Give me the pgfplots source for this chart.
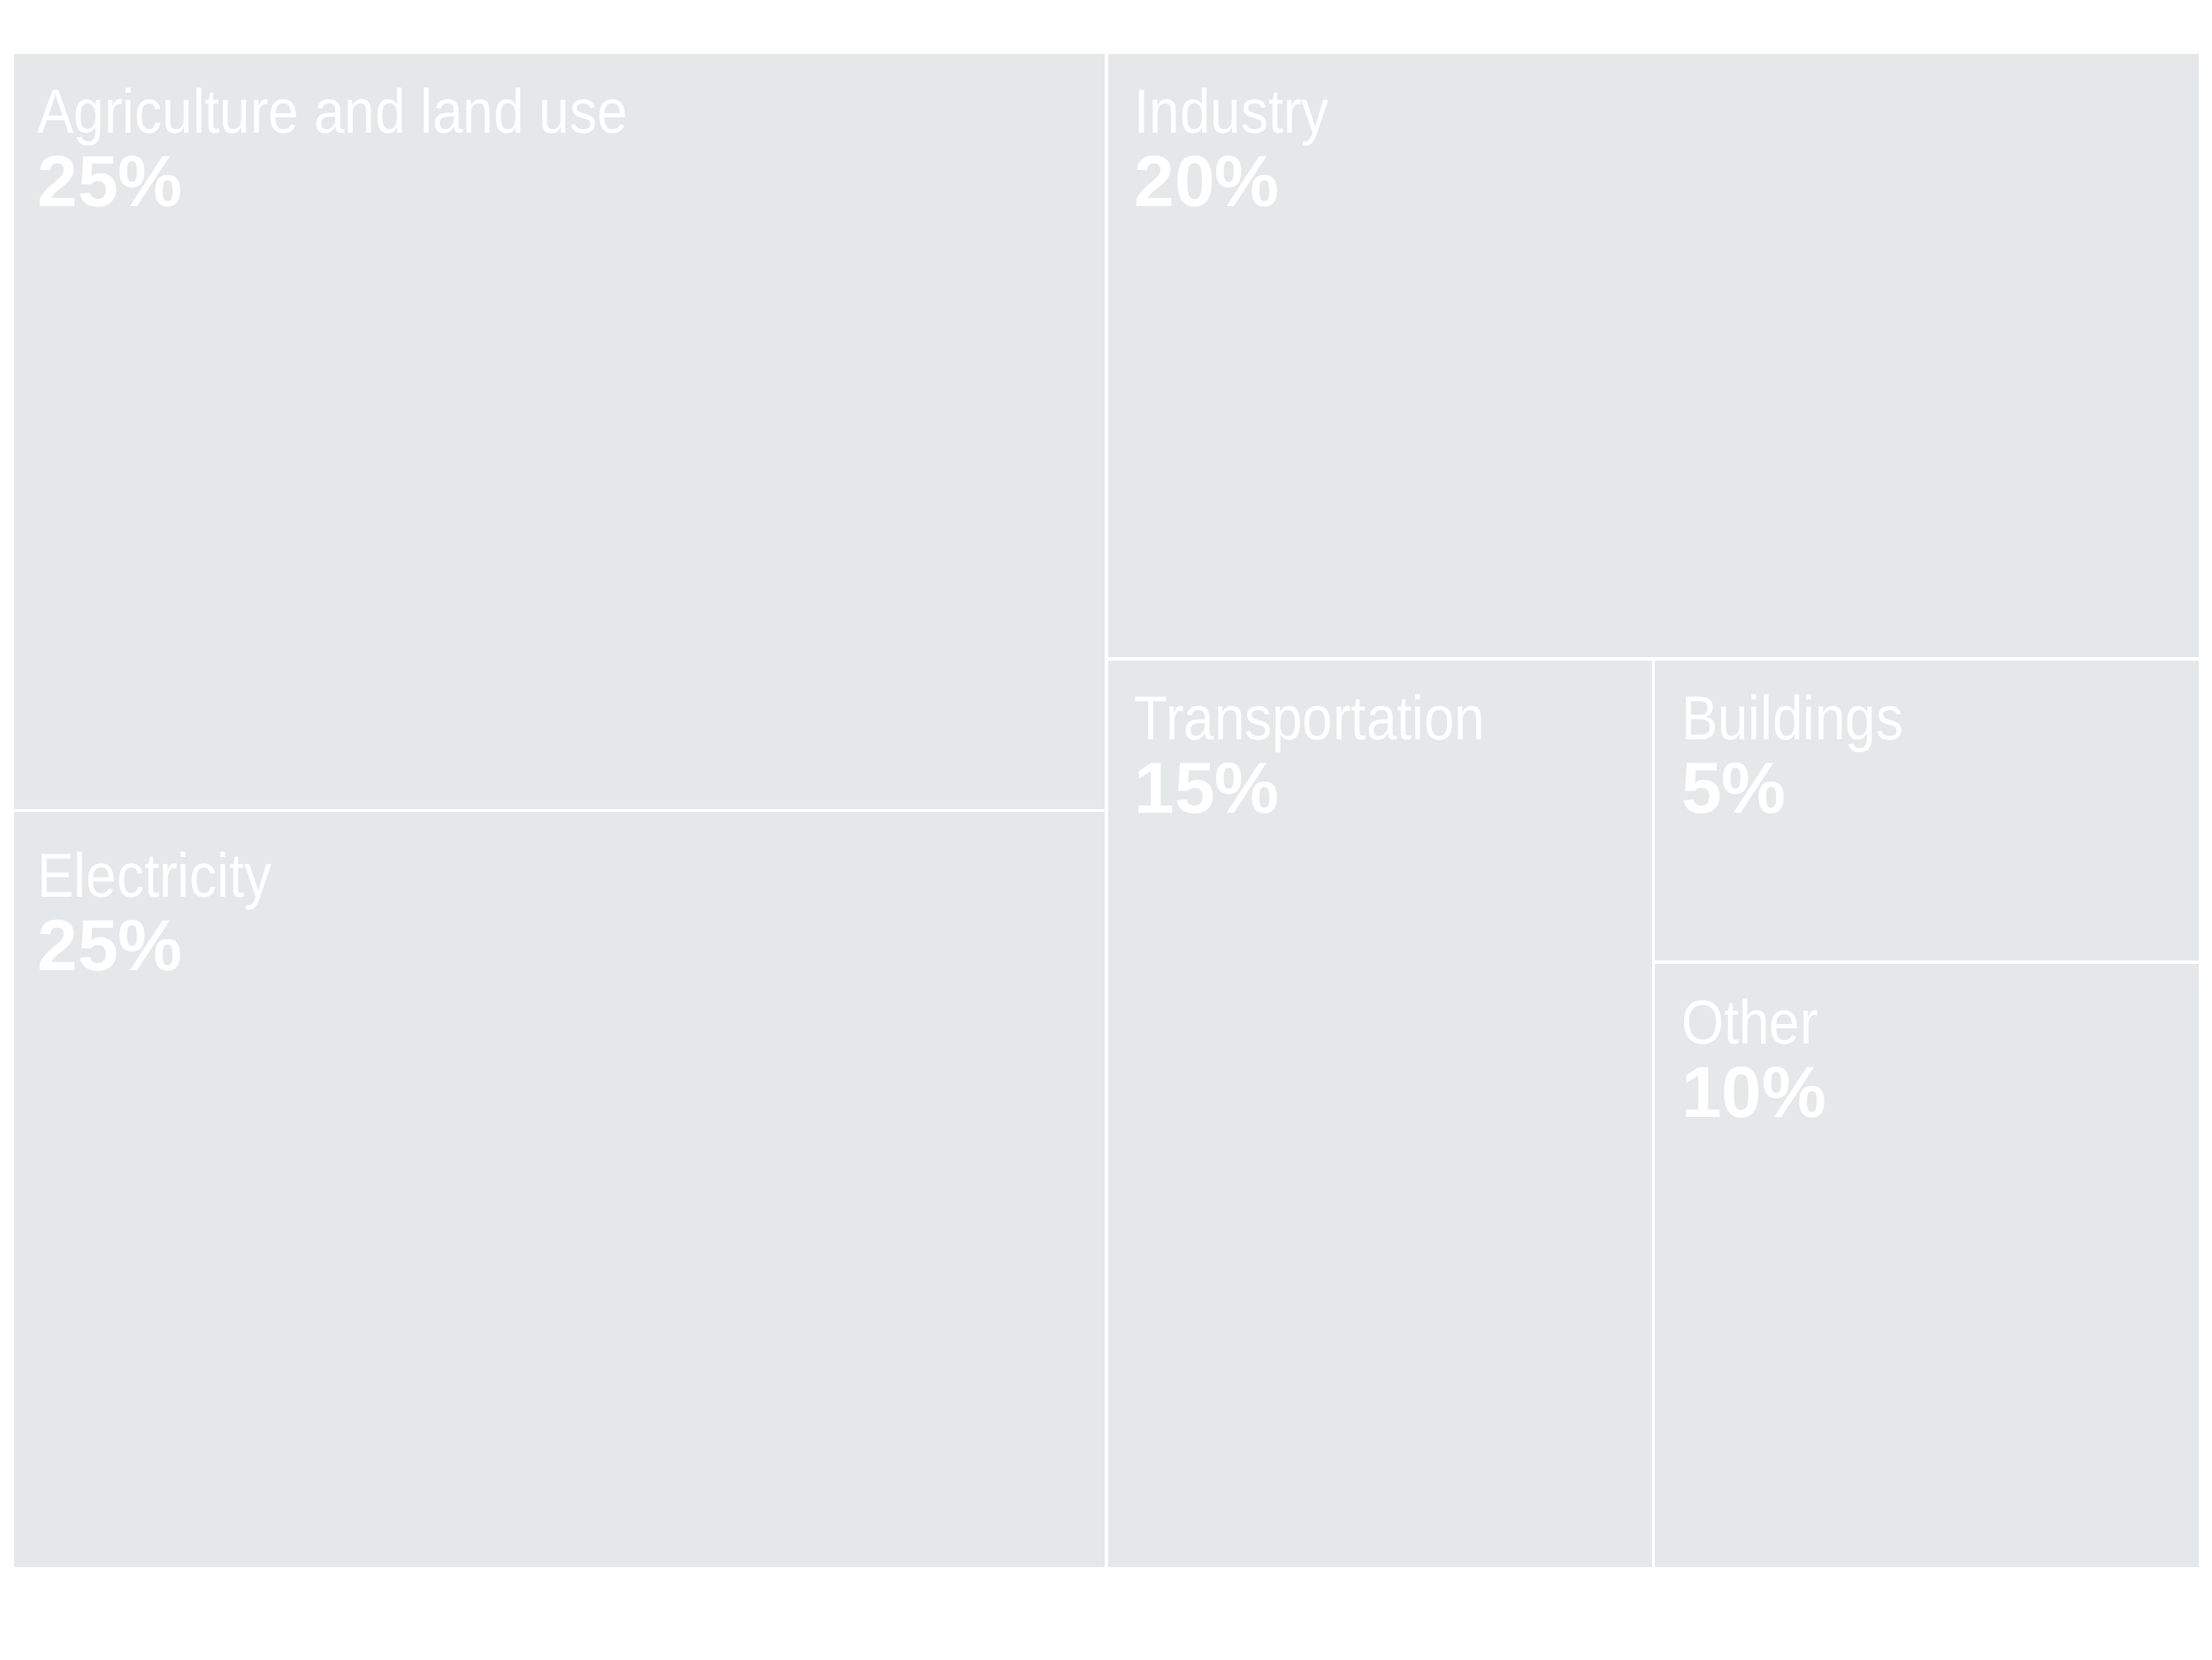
\documentclass[border=0pt]{standalone}
\usepackage{fontspec}
\setmainfont{Liberation Sans}
\newfontfamily\lightfont[FakeStretch=0.88]{Liberation Sans}
\usepackage{pgfplots}
\pgfplotsset{compat=1.18}
\definecolor{tile}{HTML}{E6E7E9}
\tikzset{
  tilestyle/.style={fill=tile, draw=white, line width=1pt},
  lab/.style={anchor=base west, text=white, font=\lightfont\fontsize{20}{24}\selectfont, xshift=0.28cm, yshift=-0.92cm, inner sep=0pt},
  pct/.style={anchor=base west, text=white, font=\bfseries\fontsize{23.3}{28}\selectfont, xshift=0.28cm, yshift=-1.75cm, inner sep=0pt},
}
\begin{document}
\begin{tikzpicture}
\useasboundingbox (-0.14cm,-1.02cm) rectangle (24.87cm,17.74cm);
\begin{axis}[
  hide axis, scale only axis,
  width=24.74cm, height=17.15cm,
  xmin=0, xmax=100, ymin=0, ymax=100,
  clip=false,
]
% Agriculture and land use 25%
\addplot[tilestyle] coordinates {(0,50) (50,50) (50,100) (0,100)} -- cycle;
% Electricity 25%
\addplot[tilestyle] coordinates {(0,0) (50,0) (50,50) (0,50)} -- cycle;
% Industry 20%
\addplot[tilestyle] coordinates {(50,60) (100,60) (100,100) (50,100)} -- cycle;
% Transportation 15%
\addplot[tilestyle] coordinates {(50,0) (75,0) (75,60) (50,60)} -- cycle;
% Buildings 5%
\addplot[tilestyle] coordinates {(75,40) (100,40) (100,60) (75,60)} -- cycle;
% Other 10%
\addplot[tilestyle] coordinates {(75,0) (100,0) (100,40) (75,40)} -- cycle;

\node[lab] at (axis cs:0,100) {Agriculture and land use};
\node[pct] at (axis cs:0,100) {25\%};
\node[lab, yshift=-0.06cm] at (axis cs:0,50) {Electricity};
\node[pct, yshift=-0.06cm] at (axis cs:0,50) {25\%};
\node[lab, xshift=0.03cm] at (axis cs:50,100) {Industry};
\node[pct, xshift=0.03cm] at (axis cs:50,100) {20\%};
\node[lab, xshift=0.03cm] at (axis cs:50,60) {Transportation};
\node[pct, xshift=0.03cm] at (axis cs:50,60) {15\%};
\node[lab, xshift=0.03cm] at (axis cs:75,60) {Buildings};
\node[pct, xshift=0.03cm] at (axis cs:75,60) {5\%};
\node[lab, xshift=0.03cm] at (axis cs:75,40) {Other};
\node[pct, xshift=0.03cm] at (axis cs:75,40) {10\%};
\end{axis}
\end{tikzpicture}
\end{document}
